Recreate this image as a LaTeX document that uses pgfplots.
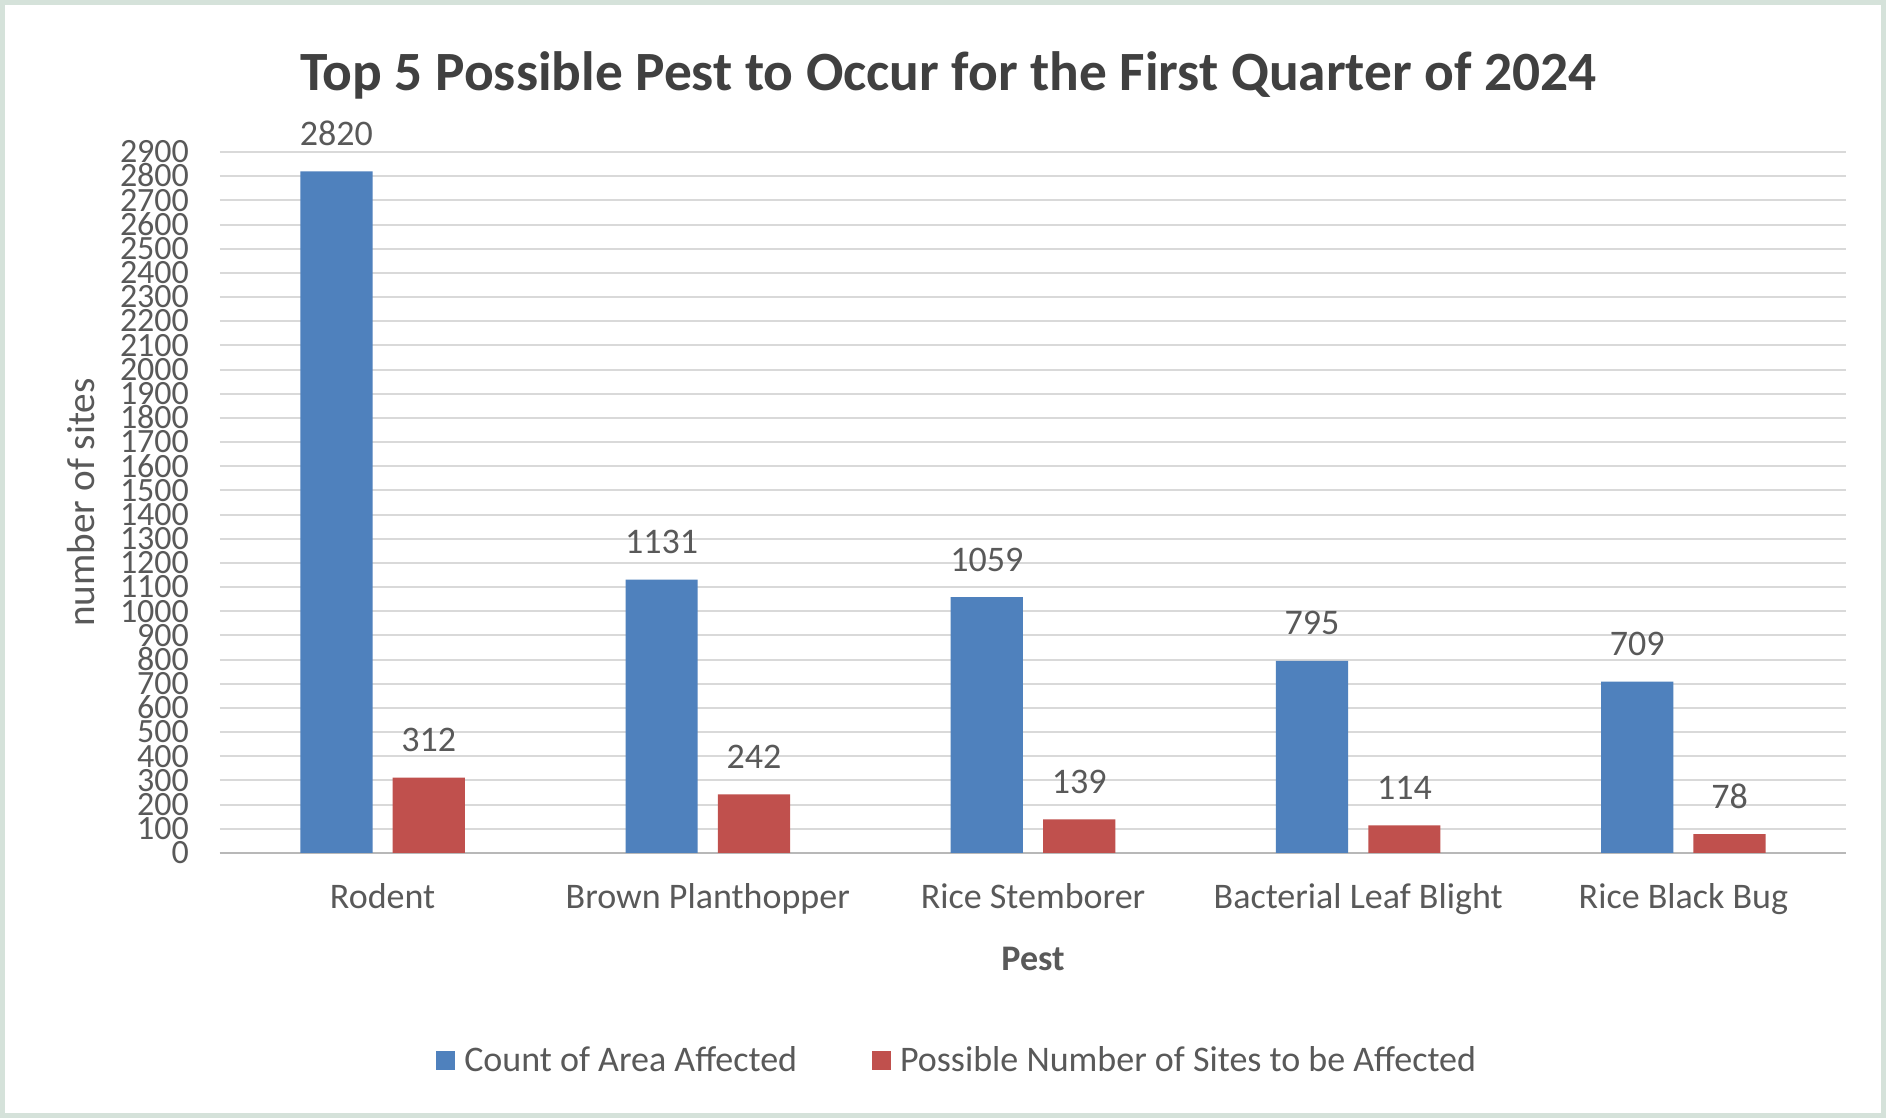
\documentclass[border=0pt]{standalone}
\usepackage{pgfplots}
\pgfplotsset{compat=1.18}
\usepackage{fontspec}
\setmainfont{Carlito}
\definecolor{barblue}{HTML}{4F81BD}
\definecolor{barred}{HTML}{C0504D}
\definecolor{txt}{HTML}{595959}
\definecolor{ttl}{HTML}{404040}
\definecolor{gridc}{HTML}{D9D9D9}
\definecolor{framec}{HTML}{D5E2DA}
\newcommand{\fs}[1]{\fontsize{#1}{#1}\selectfont}

\begin{document}
\begin{tikzpicture}
\fill[framec] (0,0) rectangle (943pt,559pt);
\fill[white] (2.5pt,2.5pt) rectangle (940.5pt,556.5pt);
\begin{axis}[
  at={(110pt,132.5pt)}, anchor=south west,
  scale only axis, width=813pt, height=350.5pt,
  ybar, bar width=0.222,
  xmin=-0.5, xmax=4.5, ymin=0, ymax=2900,
  xtick={0,...,4},
  xticklabels={Rodent, Brown Planthopper, Rice Stemborer, Bacterial Leaf Blight, Rice Black Bug},
  ytick={0,100,...,2900},
  ymajorgrids, grid style={gridc, line width=1pt},
  axis x line*=bottom, axis y line*=left,
  y axis line style={draw=none},
  x axis line style={draw=gridc!85!black, line width=1pt, -},
  major tick length=0pt,
  /pgf/number format/assume math mode=true,
  /pgf/number format/1000 sep={},
  yticklabel style={font=\fs{17}, text=txt, xshift=-12pt, inner ysep=0pt, text height=10.8pt, text depth=0pt},
  xticklabel style={font=\fs{18}, text=txt, anchor=base, yshift=-27.8pt},
  title={Top 5 Possible Pest to Occur for the First Quarter of 2024},
  title style={at={(0.448,1.0706)}, anchor=base, font=\bfseries\fs{27.7}, text=ttl},
  ylabel={number of sites},
  ylabel style={at={(-0.0857,0.5)}, anchor=center, font=\fs{19.6}, text=txt},
  xlabel={Pest},
  xlabel style={at={(0.5,-0.1676)}, anchor=base, font=\bfseries\fs{18}, text=txt},
  nodes near coords,
  every node near coord/.append style={font=\fs{18}, text=txt, anchor=base, yshift=13pt},
  legend columns=2,
  legend style={at={(0.454,-0.2967)}, anchor=center, draw=none, fill=none,
    font=\fs{18}, text=txt,
    /tikz/every even column/.append style={column sep=35.5pt}},
  legend image code/.code={\fill[#1] (0pt,-4.75pt) rectangle (9.5pt,4.75pt); \path (12pt,0pt);},
]
\addplot[fill=barblue, draw=none, bar shift=-0.142] coordinates {(0,2820) (1,1131) (2,1059) (3,795) (4,709)};
\addlegendentry{Count of Area Affected}
\addplot[fill=barred, draw=none, bar shift=0.142] coordinates {(0,312) (1,242) (2,139) (3,114) (4,78)};
\addlegendentry{Possible Number of Sites to be Affected}
\end{axis}
\end{tikzpicture}
\end{document}
